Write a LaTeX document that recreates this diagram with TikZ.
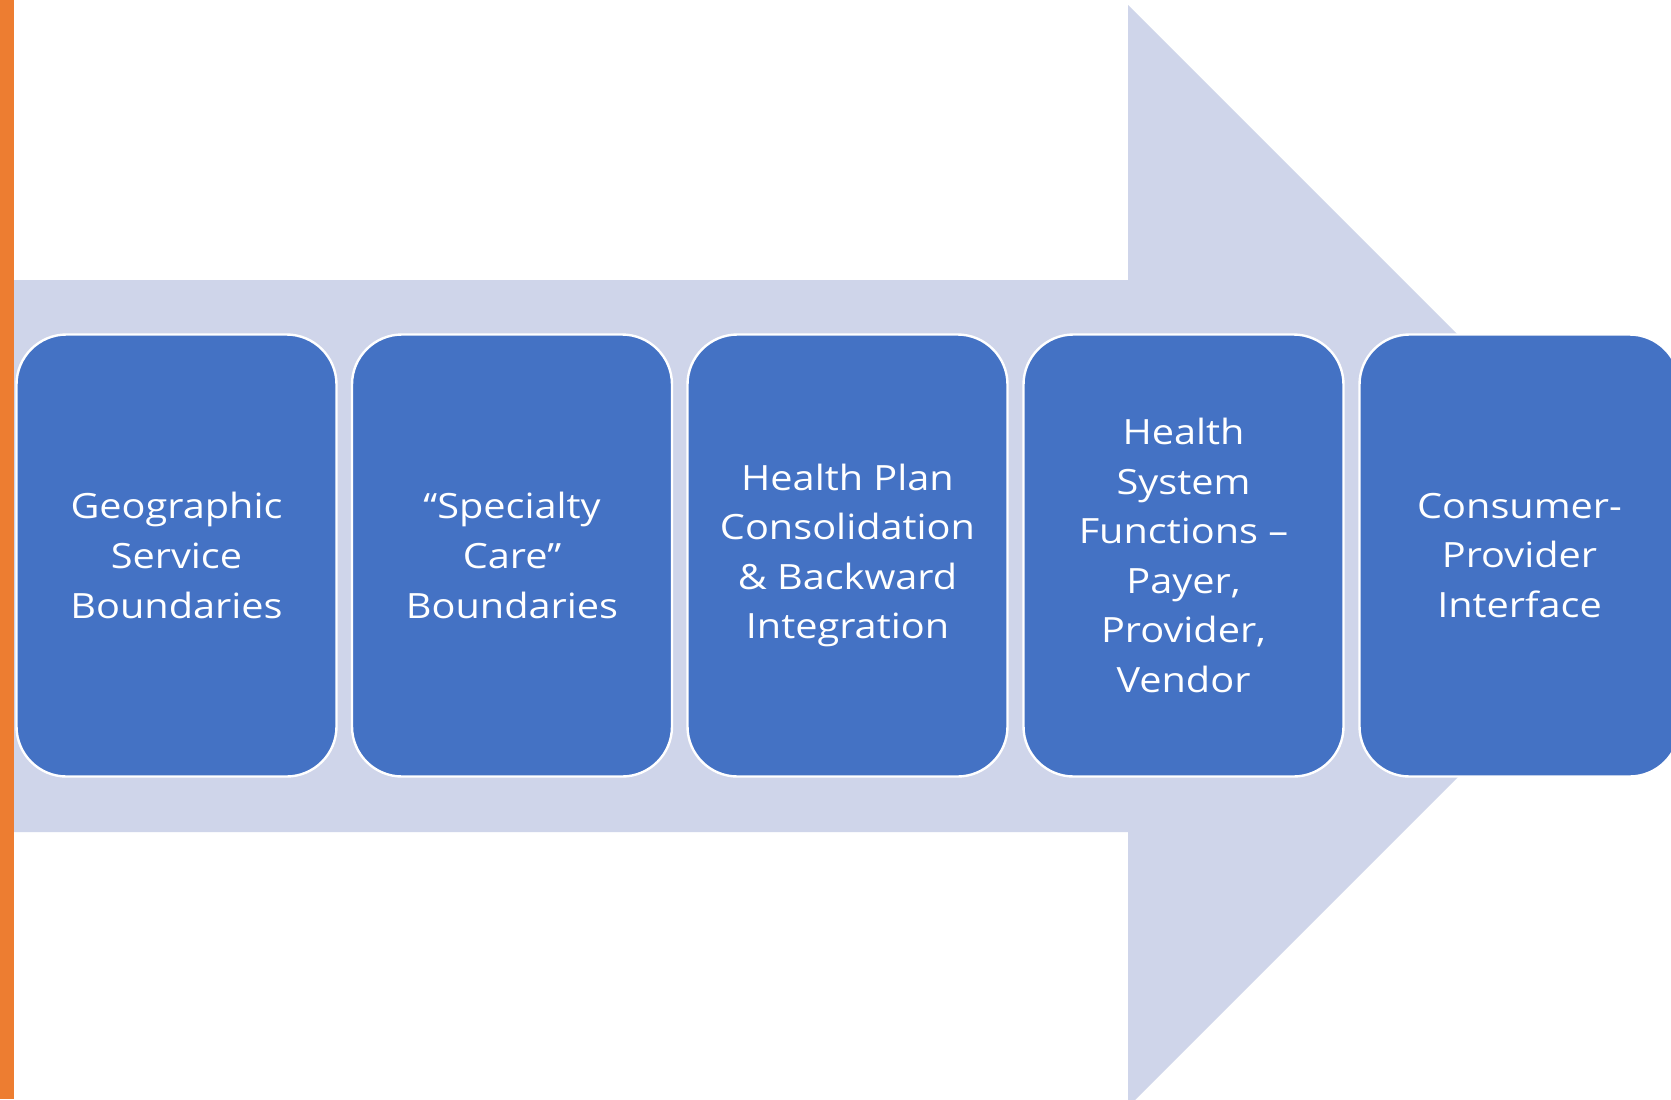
\documentclass[tikz,border=0pt]{standalone}
\usepackage{fontspec}
\setmainfont{Open Sans}[FakeStretch=1.14]
\definecolor{orangebar}{HTML}{ED7D31}
\definecolor{arrowfill}{HTML}{CFD5EA}
\definecolor{boxfill}{HTML}{4472C4}
\tikzset{
  stepbox/.style={draw=white, line width=1.2pt, fill=boxfill, rounded corners=25pt,
    minimum width=160pt, minimum height=221pt, inner sep=0pt,
    text=white, align=center, font=\fontsize{17.4pt}{24.8pt}\selectfont},
}
\begin{document}
\begin{tikzpicture}[x=0.5pt,y=-0.5pt]
\useasboundingbox (0,0) rectangle (1671,1099);
\clip (0,0) rectangle (1671,1099);
\fill[white] (0,0) rectangle (1671,1099);
\fill[arrowfill] (14,280) -- (1128,280) -- (1128,5) -- (1679,556) -- (1128,1107) -- (1128,832) -- (14,832) -- cycle;
\fill[orangebar] (0,0) rectangle (14,1099);
\node[stepbox] (b1) at (176.5,555.5) {Geographic\\Service\\Boundaries};
\node[stepbox] (b2) at (512,555.5) {“Specialty\\Care”\\Boundaries};
\node[stepbox] (b3) at (847.5,555.5) {Health Plan\\Consolidation\\\& Backward\\Integration};
\node[stepbox] (b4) at (1183.5,555.5) {Health\\System\\Functions –\\Payer,\\Provider,\\Vendor};
\node[stepbox] (b5) at (1519.5,555.5) {Consumer-\\Provider\\Interface};
\end{tikzpicture}
\end{document}
